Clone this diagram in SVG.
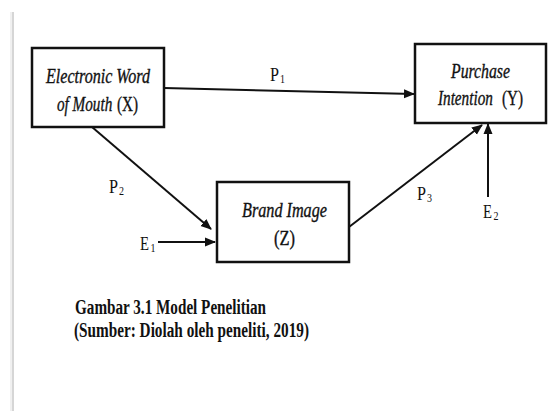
<svg xmlns="http://www.w3.org/2000/svg" width="548" height="411" viewBox="0 0 548 411">
<style>
  .box{fill:#fff;stroke:#111;stroke-width:2.5}
  .lbl{font-family:"Liberation Serif","Times New Roman",serif;font-size:20px;fill:#111;stroke:#111;stroke-width:0.35}
  .it{font-style:italic}
  .pl{font-family:"Liberation Serif","Times New Roman",serif;font-size:18px;fill:#111}
  .sub{font-family:"Liberation Serif","Times New Roman",serif;font-size:12px;fill:#111}
  .cap{font-family:"Liberation Serif","Times New Roman",serif;font-size:20px;font-weight:bold;fill:#111}
  .edge{stroke:#111;stroke-width:2;fill:none;marker-end:url(#ah)}
</style>
<defs>
  <marker id="ah" markerUnits="userSpaceOnUse" markerWidth="11" markerHeight="10" refX="10" refY="5" orient="auto">
    <path d="M0,0.5 L11,5 L0,9.5 z" fill="#111"/>
  </marker>
</defs>
<rect width="548" height="411" fill="#fff"/>
<line x1="11" y1="12" x2="11" y2="411" stroke="#f0f0f0" stroke-width="2"/>
<line x1="13" y1="12" x2="13" y2="411" stroke="#d6d6d6" stroke-width="2"/>

<g id="connectors">
  <line class="edge" x1="164" y1="88" x2="414" y2="94"/>
  <line class="edge" x1="92" y1="127" x2="211" y2="229"/>
  <line class="edge" x1="158" y1="242" x2="215" y2="242"/>
  <line class="edge" x1="349" y1="227" x2="482" y2="125"/>
  <line class="edge" x1="488" y1="197" x2="488" y2="124"/>
  <text class="pl" x="270" y="81" textLength="9" lengthAdjust="spacingAndGlyphs">P</text>
  <text class="sub" x="280" y="83" textLength="5" lengthAdjust="spacingAndGlyphs">1</text>
  <text class="pl" x="109" y="193" textLength="9" lengthAdjust="spacingAndGlyphs">P</text>
  <text class="sub" x="119" y="195" textLength="5" lengthAdjust="spacingAndGlyphs">2</text>
  <text class="pl" x="417" y="200" textLength="9" lengthAdjust="spacingAndGlyphs">P</text>
  <text class="sub" x="427" y="202" textLength="5" lengthAdjust="spacingAndGlyphs">3</text>
  <text class="pl" x="140" y="250" textLength="9" lengthAdjust="spacingAndGlyphs">E</text>
  <text class="sub" x="150.5" y="252" textLength="5" lengthAdjust="spacingAndGlyphs">1</text>
  <text class="pl" x="483" y="218" textLength="9" lengthAdjust="spacingAndGlyphs">E</text>
  <text class="sub" x="493.5" y="220" textLength="5" lengthAdjust="spacingAndGlyphs">2</text>
</g>

<g id="node-x">
  <rect class="box" x="32" y="48" width="132" height="79"/>
  <text class="lbl it" x="46" y="83" textLength="104" lengthAdjust="spacingAndGlyphs">Electronic Word</text>
  <text class="lbl it" transform="translate(57,111) scale(0.76,1)">of Mouth</text>
  <text class="lbl" transform="translate(117,111) scale(0.76,1)">(X)</text>
</g>

<g id="node-y">
  <rect class="box" x="415" y="44" width="131" height="79"/>
  <text class="lbl it" x="451" y="78" textLength="59" lengthAdjust="spacingAndGlyphs">Purchase</text>
  <text class="lbl it" transform="translate(438,105) scale(0.76,1)">Intention</text>
  <text class="lbl" transform="translate(502,105) scale(0.76,1)">(Y)</text>
</g>

<g id="node-z">
  <rect class="box" x="217" y="182" width="132" height="80"/>
  <text class="lbl it" x="242" y="217" textLength="85" lengthAdjust="spacingAndGlyphs">Brand Image</text>
  <text class="lbl" x="274" y="245" textLength="21" lengthAdjust="spacingAndGlyphs">(Z)</text>
</g>

<g id="caption">
  <text class="cap" x="75" y="314" textLength="191" lengthAdjust="spacingAndGlyphs">Gambar 3.1 Model Penelitian</text>
  <text class="cap" x="74" y="337" textLength="235" lengthAdjust="spacingAndGlyphs">(Sumber: Diolah oleh peneliti, 2019)</text>
</g>
</svg>
